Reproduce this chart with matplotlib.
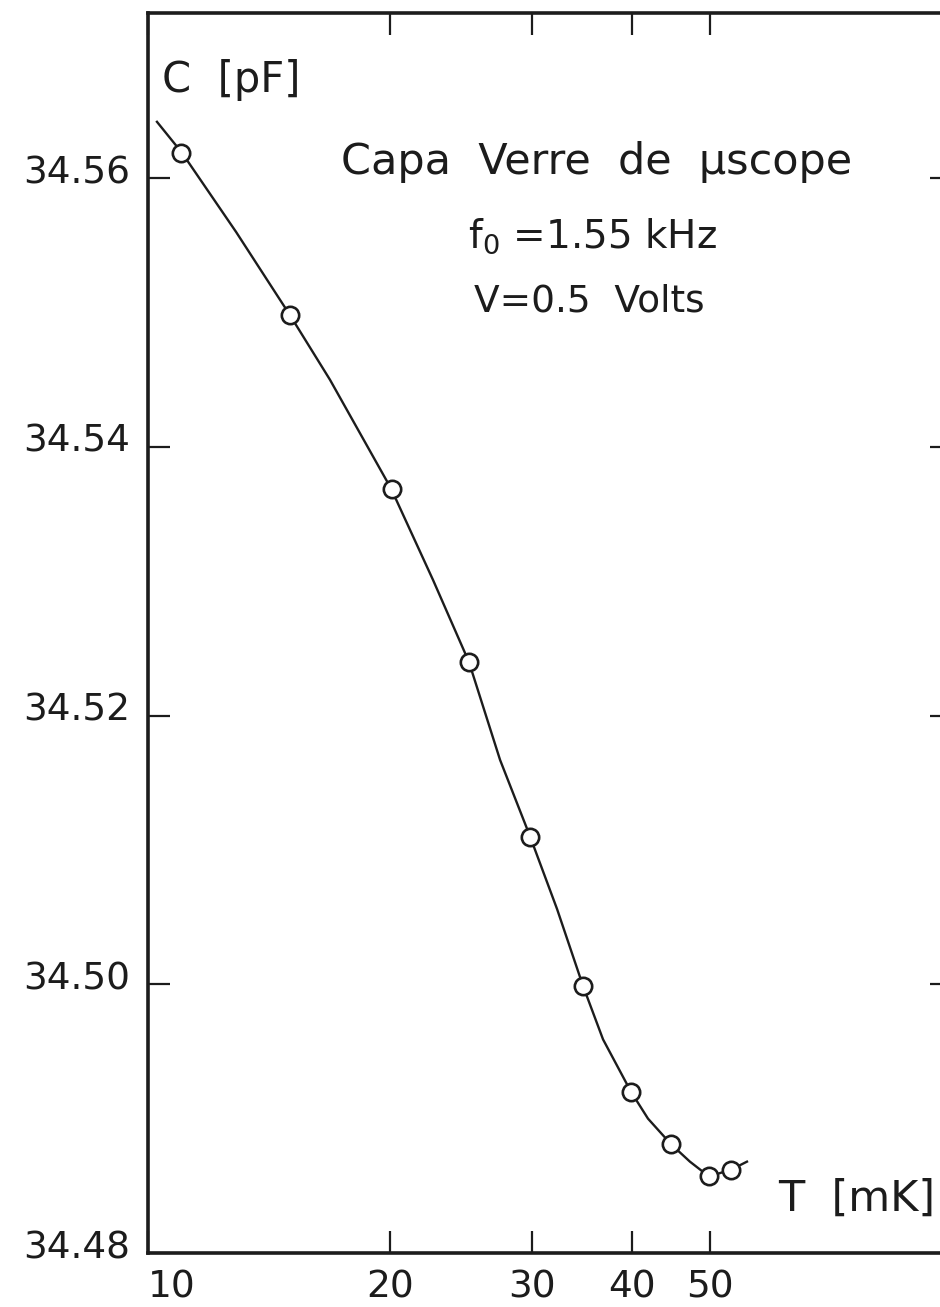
import matplotlib
matplotlib.use("Agg")
import matplotlib.pyplot as plt
import matplotlib.transforms as mtransforms
from matplotlib.ticker import NullLocator

T_meas = [11.0, 15.0, 20.1, 25.1, 29.9, 34.8, 39.9, 44.7, 49.8, 53.1]
C_meas = [34.5619, 34.5498, 34.5369, 34.5240, 34.5110, 34.4999,
          34.4920, 34.4881, 34.4857, 34.4862]

# hand drawn guide curve
T_curve = [10.26, 11.02, 12.87, 15.02, 16.84, 20.06, 22.62, 25.07, 27.41, 29.87,
           32.27, 34.75, 36.81, 39.88, 41.87, 44.72, 47.21, 49.85, 53.11, 55.59]
C_curve = [34.5642, 34.5619, 34.5560, 34.5498, 34.5450, 34.5369, 34.5301, 34.5240,
           34.5167, 34.5110, 34.5056, 34.4999, 34.4959, 34.4920, 34.4900, 34.4881,
           34.4868, 34.4857, 34.4862, 34.4868]

xticks = [10, 20, 30, 40, 50]
xtick_labels = ["10", "20", "30", "40", "50"]
yticks = [34.48, 34.50, 34.52, 34.54, 34.56]
ytick_labels = ["34.48", "34.50", "34.52", "34.54", "34.56"]

ink = "#1c1c1c"
W, H = 940, 1307

fig = plt.figure(figsize=(W / 100, H / 100), dpi=100)
# axes runs to T=100, just past the right edge of the scan
ax = fig.add_axes([148 / W, 54 / H, 804 / W, 1240 / H])

ax.plot(T_curve, C_curve, color=ink, lw=1.7, zorder=2, solid_joinstyle="round")
ax.plot(T_meas, C_meas, ls="none", marker="o", ms=12.5, mfc="white",
        mec=ink, mew=1.9, zorder=3)

ax.set_xscale("log")
ax.set_xlim(10, 100)
ax.set_ylim(34.48, 34.5723)
ax.xaxis.set_minor_locator(NullLocator())
ax.set_xticks(xticks)
ax.set_xticklabels(xtick_labels)
ax.set_yticks(yticks)
ax.set_yticklabels(ytick_labels)

for s in ax.spines.values():
    s.set_linewidth(2.6)
    s.set_color(ink)

ax.tick_params(axis="both", which="major", direction="in", length=16, width=1.6,
               color=ink, labelcolor=ink, labelsize=27, top=True, right=True)
ax.tick_params(axis="x", pad=12)
ax.tick_params(axis="y", pad=13)

ax.get_xticklabels()[0].set_horizontalalignment("left")
up = mtransforms.ScaledTranslation(0, 9 / 100, fig.dpi_scale_trans)
for lbl in ax.get_yticklabels():
    lbl.set_transform(lbl.get_transform() + up)

def put(x, y, s, size, ha="center"):
    fig.text(x / W, 1 - y / H, s, fontsize=size, color=ink, ha=ha, va="center")

put(162, 80, "C  [pF]", 30, ha="left")
put(597, 162, "Capa  Verre  de  µscope", 31)
put(592, 236, r"f$_0$ =1.55 kHz", 28)
put(589, 302, "V=0.5  Volts", 27)
put(935, 1199, "T  [mK]", 31, ha="right")

fig.savefig("out.png", dpi=100)
